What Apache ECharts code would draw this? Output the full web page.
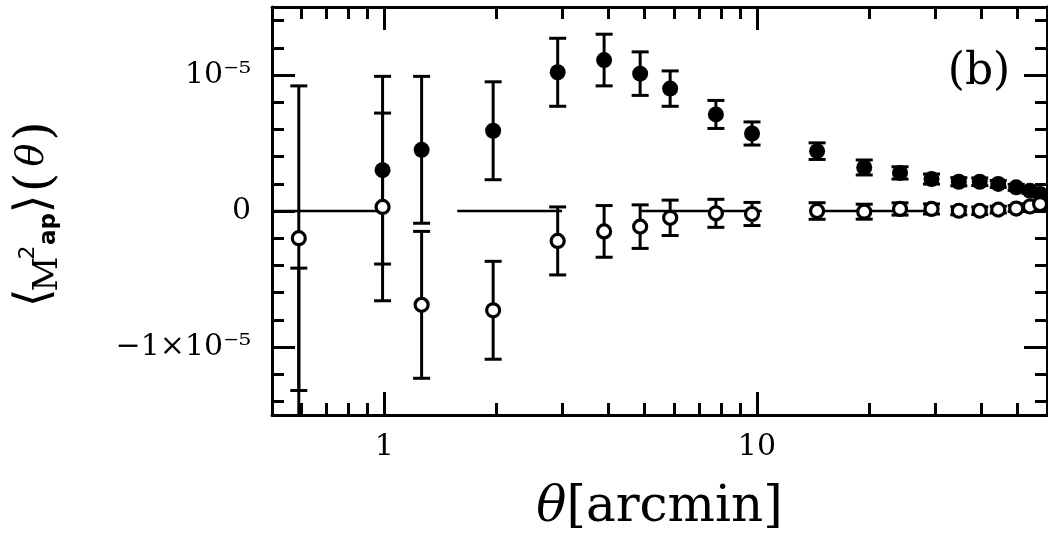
<!DOCTYPE html>
<html>
<head>
<meta charset="utf-8">
<script src="https://cdn.jsdelivr.net/npm/echarts@6/dist/echarts.min.js"></script>
<style>
html,body{margin:0;padding:0;background:#fff;}
#c{width:1048px;height:539px;}
</style>
</head>
<body>
<div id="c"></div>
<script>
// ---- data ----
const theta   = [0.59, 0.99, 1.26, 1.96, 2.92, 3.89, 4.86, 5.85, 7.76, 9.7, 14.5, 19.4, 24.2, 29.4, 34.8, 39.6, 44.4, 49.6, 54.0, 57.5];
const mapE    = [-15.4e-6, 3.0e-6, 4.5e-6, 5.9e-6, 10.2e-6, 11.1e-6, 10.1e-6, 9.0e-6, 7.1e-6, 5.7e-6, 4.4e-6, 3.2e-6, 2.8e-6, 2.35e-6, 2.15e-6, 2.15e-6, 1.99e-6, 1.74e-6, 1.49e-6, 1.25e-6];
const mapB    = [-2.0e-6, 0.3e-6, -6.9e-6, -7.3e-6, -2.2e-6, -1.5e-6, -1.15e-6, -0.5e-6, -0.17e-6, -0.22e-6, 0.0, -0.05e-6, 0.15e-6, 0.15e-6, 0.02e-6, 0.02e-6, 0.1e-6, 0.18e-6, 0.33e-6, 0.51e-6];
const mapErr  = [11.2e-6, 6.9e-6, 5.4e-6, 3.6e-6, 2.5e-6, 1.9e-6, 1.6e-6, 1.3e-6, 1.03e-6, 0.85e-6, 0.61e-6, 0.55e-6, 0.45e-6, 0.37e-6, 0.3e-6, 0.28e-6, 0.25e-6, 0.22e-6, 0.2e-6, 0.2e-6];
const zeroSegments = [[0.5, 1.0], [1.57, 3.0], [4.9, 10.3], [14.4, 29.5]];

const xMajorTicks  = [1, 10];
const xMajorLabels = ['1', '10'];
const xMinorTicks  = [0.6, 0.7, 0.8, 0.9, 2, 3, 4, 5, 6, 7, 8, 9, 20, 30, 40, 50, 60];
const yMajorTicks  = [-1e-5, 0, 1e-5];
const yMajorLabels = ['\u22121\u00d710\u207b\u2075', '0', '10\u207b\u2075'];
const yMinorTicks  = [-1.4e-5, -1.2e-5, -1.0e-5, -0.8e-5, -0.6e-5, -0.4e-5, -0.2e-5, 0, 0.2e-5, 0.4e-5, 0.6e-5, 0.8e-5, 1.0e-5, 1.2e-5, 1.4e-5];

const SERIF = '"DejaVu Serif", "DejaVu Sans", serif';
const BLACK = '#000';

function labelFrom(values, labels) {
  return function (v) {
    for (let i = 0; i < values.length; i++) {
      if (Math.abs(values[i] - v) <= Math.abs(values[i]) * 1e-6 + 1e-12) return labels[i];
    }
    return '';
  };
}

function xAxisDef(pos, ticks, len, showLine, showLabel) {
  return {
    type: 'log', logBase: 10, min: 0.5, max: 60, position: pos,
    axisLine: { show: showLine, onZero: false, lineStyle: { color: BLACK, width: 3 } },
    axisTick: { show: true, inside: true, length: len, customValues: ticks, lineStyle: { color: BLACK, width: 3 } },
    axisLabel: showLabel ? {
      show: true, customValues: ticks, formatter: labelFrom(xMajorTicks, xMajorLabels),
      fontSize: 30, fontFamily: SERIF, color: BLACK, margin: 17
    } : { show: false },
    splitLine: { show: false }, minorTick: { show: false }
  };
}
function yAxisDef(pos, ticks, len, showLine, showLabel) {
  return {
    type: 'value', min: -1.5e-5, max: 1.5e-5, position: pos,
    axisLine: { show: showLine, onZero: false, lineStyle: { color: BLACK, width: 3 } },
    axisTick: { show: true, inside: true, length: len, customValues: ticks, lineStyle: { color: BLACK, width: 3 } },
    axisLabel: showLabel ? {
      show: true, customValues: ticks, formatter: labelFrom(yMajorTicks, yMajorLabels),
      fontSize: 30, fontFamily: SERIF, color: BLACK, margin: 21
    } : { show: false },
    splitLine: { show: false }
  };
}

function errorBarRender(params, api) {
  const x = api.value(0);
  const lo = api.coord([x, api.value(1)]);
  const hi = api.coord([x, api.value(2)]);
  const cs = params.coordSys;
  const top = cs.y, bottom = cs.y + cs.height;
  const px = lo[0];
  const yTop = Math.max(top, Math.min(lo[1], hi[1]));
  const yBot = Math.min(bottom, Math.max(lo[1], hi[1]));
  const style = { stroke: BLACK, lineWidth: 3 };
  const children = [];
  if (yBot > yTop) {
    children.push({ type: 'line', shape: { x1: px, y1: yTop, x2: px, y2: yBot }, style: style });
  }
  const hw = 8.5;
  [lo[1], hi[1]].forEach(function (cy) {
    if (cy >= top && cy <= bottom) {
      children.push({ type: 'line', shape: { x1: px - hw, y1: cy, x2: px + hw, y2: cy }, style: style });
    }
  });
  return { type: 'group', children: children };
}

function zeroRender(params, api) {
  const a = api.coord([api.value(0), 0]);
  const b = api.coord([api.value(1), 0]);
  return { type: 'line', shape: { x1: a[0], y1: a[1], x2: b[0], y2: b[1] }, style: { stroke: BLACK, lineWidth: 2.6 } };
}

const chart = echarts.init(document.getElementById('c'), null, { renderer: 'canvas' });

const xBottom = xAxisDef('bottom', xMajorTicks, 23, true, true);
xBottom.name = '{i|\u03b8}[arcmin]';
xBottom.nameLocation = 'middle';
xBottom.nameGap = 68;
xBottom.nameTextStyle = {
  fontSize: 50, fontFamily: SERIF, color: BLACK,
  rich: { i: { fontSize: 50, fontFamily: SERIF, fontStyle: 'italic', color: BLACK } }
};

const option = {
  animation: false,
  backgroundColor: '#fff',
  grid: { left: 272, top: 7, width: 775, height: 408, containLabel: false, outerBoundsMode: 'none' },
  xAxis: [
    xBottom,
    xAxisDef('bottom', xMinorTicks, 12, false, false),
    xAxisDef('top', xMajorTicks, 23, true, false),
    xAxisDef('top', xMinorTicks, 12, false, false)
  ],
  yAxis: [
    yAxisDef('left', yMajorTicks, 23, true, true),
    yAxisDef('left', yMinorTicks, 12, false, false),
    yAxisDef('right', yMajorTicks, 23, true, false),
    yAxisDef('right', yMinorTicks, 12, false, false)
  ],
  series: [
    {
      type: 'custom', name: 'zero', xAxisIndex: 0, yAxisIndex: 0, silent: true, z: 2,
      renderItem: zeroRender, encode: { x: [0, 1] },
      data: zeroSegments
    },
    {
      type: 'custom', name: 'errE', xAxisIndex: 0, yAxisIndex: 0, silent: true, z: 3,
      renderItem: errorBarRender, encode: { x: 0, y: [1, 2] },
      data: theta.map(function (t, i) { return [t, mapE[i] - mapErr[i], mapE[i] + mapErr[i]]; })
    },
    {
      type: 'custom', name: 'errB', xAxisIndex: 0, yAxisIndex: 0, silent: true, z: 3,
      renderItem: errorBarRender, encode: { x: 0, y: [1, 2] },
      data: theta.map(function (t, i) { return [t, mapB[i] - mapErr[i], mapB[i] + mapErr[i]]; })
    },
    {
      type: 'scatter', name: 'E', xAxisIndex: 0, yAxisIndex: 0, z: 5, clip: true,
      symbol: 'circle', symbolSize: 16,
      itemStyle: { color: BLACK, opacity: 1 },
      emphasis: { disabled: true },
      data: theta.map(function (t, i) { return [t, mapE[i]]; })
    },
    {
      type: 'scatter', name: 'B', xAxisIndex: 0, yAxisIndex: 0, z: 6, clip: true,
      symbol: 'circle', symbolSize: 13,
      itemStyle: { color: '#fff', borderColor: BLACK, borderWidth: 3.2, opacity: 1 },
      emphasis: { disabled: true },
      data: theta.map(function (t, i) { return [t, mapB[i]]; })
    }
  ],
  graphic: [
    {
      type: 'text', x: 979, y: 73, silent: true,
      style: { text: '(b)', font: '44px ' + SERIF, fill: BLACK, textAlign: 'center', textVerticalAlign: 'middle' }
    },
    {
      type: 'group', x: 0, y: 213, rotation: Math.PI / 2, silent: true,
      children: [
        { type: 'text', x: -85, y: 36, style: { text: '\u27e8', font: '48px ' + SERIF, fill: BLACK, textAlign: 'center', textVerticalAlign: 'middle' } },
        { type: 'text', x: -61, y: 48, style: { text: 'M', font: '34px ' + SERIF, fill: BLACK, textAlign: 'center', textVerticalAlign: 'middle' } },
        { type: 'text', x: -39.5, y: 28, style: { text: '2', font: '22px "DejaVu Sans", sans-serif', fill: BLACK, textAlign: 'center', textVerticalAlign: 'middle' } },
        { type: 'text', x: -16, y: 49, style: { text: 'ap', font: 'bold 23px "DejaVu Sans", sans-serif', fill: BLACK, textAlign: 'center', textVerticalAlign: 'middle' } },
        { type: 'text', x: 9, y: 36, style: { text: '\u27e9', font: '48px ' + SERIF, fill: BLACK, textAlign: 'center', textVerticalAlign: 'middle' } },
        { type: 'text', x: 30.5, y: 37, style: { text: '(', font: '50px ' + SERIF, fill: BLACK, textAlign: 'center', textVerticalAlign: 'middle' } },
        { type: 'text', x: 58, y: 33, style: { text: '\u03b8', font: 'italic 38px ' + SERIF, fill: BLACK, textAlign: 'center', textVerticalAlign: 'middle' } },
        { type: 'text', x: 82, y: 37, style: { text: ')', font: '50px ' + SERIF, fill: BLACK, textAlign: 'center', textVerticalAlign: 'middle' } }
      ]
    }
  ]
};
chart.setOption(option);
</script>
</body>
</html>
